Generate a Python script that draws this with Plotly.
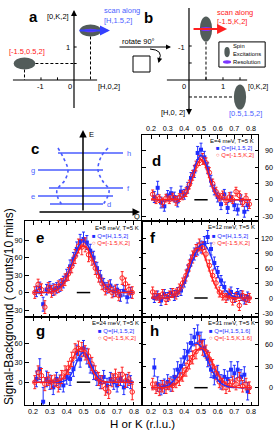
import plotly.graph_objects as go

W, H = 274, 433
FONT = "Arial, Liberation Sans, Helvetica, sans-serif"
BLUE = "#1f2dff"
RED = "#ff2020"
GREY = "#525c5a"
PURPLE = "#7b35ff"
TXT_BLUE = "#4a62ff"
LINE_BLUE = "#4a5cff"

# ---------------- data ----------------
x_ticks = [0.2, 0.3, 0.4, 0.5, 0.6, 0.7, 0.8]
x_tick_text = ["0.2", "0.3", "0.4", "0.5", "0.6", "0.7", "0.8"]
x_minor = [0.25, 0.35, 0.45, 0.55, 0.65, 0.75]

x_blue = [0.22, 0.24, 0.26, 0.28, 0.30, 0.32, 0.34, 0.36, 0.38, 0.40, 0.42, 0.44, 0.46, 0.48, 0.50,
          0.52, 0.54, 0.56, 0.58, 0.60, 0.62, 0.64, 0.66, 0.68, 0.70, 0.72, 0.74, 0.76, 0.78]
x_red = [0.21, 0.23, 0.25, 0.27, 0.29, 0.31, 0.33, 0.35, 0.37, 0.39, 0.41, 0.43, 0.45, 0.47, 0.49,
         0.51, 0.53, 0.55, 0.57, 0.59, 0.61, 0.63, 0.65, 0.67, 0.69, 0.71, 0.73, 0.75, 0.77, 0.79]
x_fit = [0.20, 0.22, 0.24, 0.26, 0.28, 0.30, 0.32, 0.34, 0.36, 0.38, 0.40, 0.42, 0.44, 0.46, 0.48, 0.50,
         0.52, 0.54, 0.56, 0.58, 0.60, 0.62, 0.64, 0.66, 0.68, 0.70, 0.72, 0.74, 0.76, 0.78, 0.80]
res_bar_x = [0.46, 0.54]
res_bar_y = [0, 0]

# panel d : E = 4 meV
d_blue = [5, 22, -5, -12, 8, 12, 5, -3, 15, 10, 22, 40, 52, 86, 92, 78, 58, 35, 18, 5, -8, 10, -15, 5, -10, -18, 0, -22, -10]
d_blue_err = [10, 12, 10, 9, 9, 10, 9, 10, 10, 9, 10, 10, 11, 12, 12, 11, 10, 10, 9, 9, 10, 9, 10, 9, 10, 10, 9, 10, 10]
d_red = [10, 0, 2, -5, 3, 0, 5, -2, 4, 8, 14, 28, 45, 62, 72, 75, 68, 50, 30, 15, 5, 8, -2, 5, 0, 15, 8, -5, 3, -8]
d_red_err = [8, 7, 7, 8, 7, 7, 7, 8, 7, 8, 8, 8, 9, 9, 9, 10, 9, 9, 8, 8, 7, 8, 7, 8, 7, 8, 8, 7, 8, 8]
d_blue_fit = [0, 0, 0, 0, 0, 0, 0, 0.2, 0.6, 2.3, 7.0, 16.9, 33.7, 55.3, 74.3, 82, 74.3, 55.3, 33.7, 16.9, 7.0, 2.3,
              0.6, 0.2, 0, 0, 0, 0, 0, 0, 0]
d_red_fit = [0, 0, 0, 0, 0, 0, 0, 0.1, 0.6, 2.1, 6.3, 15.2, 30.4, 49.9, 67.0, 74, 67.0, 49.9, 30.4, 15.2, 6.3, 2.1,
             0.6, 0.1, 0, 0, 0, 0, 0, 0, 0]

# panel e : E = 8 meV
e_blue = [2, 8, -20, 5, 10, 5, 8, 12, 18, 30, 45, 58, 75, 88, 92, 86, 72, 60, 42, 28, 15, 8, 12, 2, 5, -5, 3, -8, 0]
e_blue_err = [9, 10, 12, 9, 9, 10, 9, 10, 10, 10, 11, 11, 12, 12, 12, 12, 11, 11, 10, 10, 9, 9, 10, 9, 9, 10, 9, 10, 9]
e_red = [0, 14, 5, -25, 8, 2, 5, 10, 14, 22, 32, 45, 62, 80, 78, 82, 65, 58, 42, 28, 15, 5, 10, 0, 3, -5, 25, 15, 5, 0]
e_red_err = [10, 9, 10, 11, 9, 10, 9, 10, 10, 10, 11, 11, 12, 12, 13, 12, 12, 11, 11, 10, 10, 9, 10, 9, 10, 9, 11, 10, 9, 10]
e_blue_fit = [0, 0, 0, 0.1, 0.3, 0.8, 1.9, 4.2, 8.6, 16.0, 26.9, 41.3, 57.5, 72.8, 84.0, 88, 84.0, 72.8, 57.5, 41.3,
              26.9, 16.0, 8.6, 4.2, 1.9, 0.8, 0.3, 0.1, 0, 0, 0]
e_red_fit = [0, 0, 0, 0.1, 0.3, 0.7, 1.8, 3.8, 7.8, 14.6, 24.5, 37.5, 52.2, 66.2, 76.3, 80, 76.3, 66.2, 52.2, 37.5,
             24.5, 14.6, 7.8, 3.8, 1.8, 0.7, 0.3, 0.1, 0, 0, 0]

# panel f : E = 12 meV
f_blue = [0, 5, -5, 8, 2, 10, 5, 12, 15, 32, 55, 75, 88, 98, 102, 110, 122, 98, 70, 52, 35, 22, 5, 12, 0, 10, 5, -3, 2]
f_blue_err = [9, 9, 10, 9, 9, 9, 10, 9, 10, 10, 11, 11, 12, 12, 12, 13, 13, 12, 12, 11, 10, 10, 9, 10, 9, 9, 10, 9, 10]
f_red = [12, 5, 0, 8, -3, 5, 10, 8, 18, 30, 45, 65, 82, 95, 106, 100, 88, 65, 45, 30, 12, 5, 0, 8, -5, 2, -15, 5, -3, 0]
f_red_err = [10, 9, 9, 9, 10, 9, 9, 10, 10, 10, 11, 11, 12, 12, 12, 12, 12, 11, 11, 10, 10, 9, 9, 10, 9, 9, 10, 9, 10, 9]
f_blue_fit = [0, 0, 0, 0.2, 0.5, 1.2, 2.7, 5.6, 10.8, 19.2, 31.4, 47.2, 65.6, 83.7, 98.5, 107, 107, 98.5, 83.7, 65.6,
              47.2, 31.4, 19.2, 10.8, 5.6, 2.7, 1.2, 0.5, 0.2, 0, 0]
f_red_fit = [0, 0, 0, 0, 0.3, 0.9, 2.3, 5.4, 11.4, 21.6, 36.7, 55.6, 75.5, 91.7, 99.7, 96.9, 84.3, 65.7, 45.8, 28.6,
             15.9, 8.0, 3.5, 1.4, 0.5, 0.2, 0, 0, 0, 0, 0]

# panel g : E = 24 meV
g_blue = [5, 20, -30, 5, 0, -8, 5, 0, -5, 8, 5, 20, 45, 35, 52, 40, 25, 15, 5, 0, 8, -5, 5, 0, -5, 5, -8, 2, 0]
g_blue_err = [12, 16, 22, 12, 11, 11, 10, 11, 10, 11, 10, 11, 12, 12, 12, 12, 11, 11, 10, 10, 10, 11, 10, 11, 10, 10, 11, 10, 10]
g_red = [0, 15, 10, -3, 5, 0, 2, -5, 8, 15, 22, 35, 48, 52, 50, 45, 40, 28, 15, 5, 0, -10, -15, 3, 10, 5, 12, 2, 5, -15]
g_red_err = [10, 10, 11, 10, 10, 10, 9, 10, 10, 10, 10, 11, 11, 11, 11, 11, 11, 10, 10, 10, 10, 10, 10, 10, 10, 10, 11, 10, 10, 12]
g_blue_fit = [0, 0, 0, 0, 0, 0, 0, 0, 0.4, 1.3, 3.9, 9.5, 18.9, 31.0, 41.7, 46, 41.7, 31.0, 18.9, 9.5, 3.9, 1.3, 0.4,
              0, 0, 0, 0, 0, 0, 0, 0]
g_red_fit = [0, 0, 0, 0, 0, 0, 0.3, 1.0, 2.9, 7.0, 14.5, 25.3, 37.8, 48.0, 52, 48.0, 37.8, 25.3, 14.5, 7.0, 2.9, 1.0,
             0.3, 0, 0, 0, 0, 0, 0, 0, 0]

# panel h : E = 31 meV
h_blue = [28, 5, 0, 2, 8, 5, 15, 25, 30, 42, 50, 62, 70, 75, 65, 55, 40, 25, 15, 20, 8, 15, 12, 25, 20, 25, 15, 18, -5]
h_blue_err = [12, 10, 10, 10, 10, 10, 11, 11, 11, 11, 12, 12, 12, 12, 12, 12, 11, 11, 11, 11, 10, 10, 11, 11, 11, 11, 10, 11, 12]
h_red = [5, 0, -3, 2, 0, 5, 3, 8, 12, 18, 25, 35, 42, 50, 62, 55, 50, 40, 30, 20, 8, 5, 0, 3, 8, 5, 12, 2, 5, 0]
h_red_err = [8, 8, 8, 8, 8, 8, 8, 8, 9, 9, 9, 9, 9, 10, 10, 10, 9, 9, 9, 9, 8, 8, 8, 8, 8, 8, 9, 8, 8, 8]
h_blue_fit = [0, 0.1, 0.3, 0.7, 1.6, 3.2, 6.2, 11.0, 18.0, 27.1, 37.6, 48.0, 56.5, 61.4, 61.4, 56.5, 48.0, 37.6, 27.1,
              18.0, 11.0, 6.2, 3.2, 1.6, 0.7, 0.3, 0.1, 0, 0, 0, 0]
h_red_fit = [0, 0, 0.1, 0.2, 0.4, 0.9, 2.0, 4.0, 7.4, 12.7, 19.8, 28.6, 38.1, 46.7, 52.8, 55, 52.8, 46.7, 38.1, 28.6,
             19.8, 12.7, 7.4, 4.0, 2.0, 0.9, 0.4, 0.2, 0.1, 0, 0]

energy_labels = ["E=4 meV, T=5 K", "E=8 meV, T=5 K", "E=12 meV, T=5 K", "E=24 meV, T=5 K", "E=31 meV, T=5 K"]
q_blue_labels = ["Q=[H,1.5,2]", "Q=[H,1.5,2]", "Q=[H,1.5,2]", "Q=[H,1.5,2]", "Q=[H,1.5,1.6]"]
q_red_labels = ["Q=[-1.5,K,2]", "Q=[-1.5,K,2]", "Q=[-1.5,K,2]", "Q=[-1.5,K,2]", "Q=[-1.5,K,1.6]"]

# schematic a: spin excitation positions in (H, K)
a_spin_h = [-1.5, 0.5]
a_spin_k = [0.5, 1.5]
# schematic b: rotated frame (K horizontal, -H vertical)
b_spin_k = [0.5, 1.5]
b_spin_v = [1.5, -0.5]
# schematic c: dispersion (Q, E) and energy cuts d..h
c_left_q = [-0.5, -0.4, -0.3, -0.36, -0.52, -0.5, -0.4]
c_right_q = [0.5, 0.36, 0.3, 0.38, 0.52, 0.48, 0.38]
c_disp_e = [32, 27.5, 21, 16, 11, 7, 3]
c_levels = [4, 8, 12, 21, 29.5]
c_level_q0 = [-0.66, -0.9, -0.68, -0.9, -0.5]
c_level_q1 = [0.4, 0.6, 0.8, 0.4, 0.8]
c_level_names = ["d", "e", "f", "g", "h"]

# ---------------- figure ----------------
fig = go.Figure()
shapes = []
ann = []


def PX(x):
    return x / W


def PY(y):
    return 1 - y / H


def line(x0, y0, x1, y1, ref, color="black", width=1, dash=None):
    shapes.append(dict(type="line", xref="x" + ref, yref="y" + ref, x0=x0, y0=y0, x1=x1, y1=y1,
                       line=dict(color=color, width=width, dash=dash)))


def ellipse(cx, cy, w, h, ref, color):
    shapes.append(dict(type="circle", xref="x" + ref, yref="y" + ref, x0=cx - w / 2, x1=cx + w / 2,
                       y0=cy - h / 2, y1=cy + h / 2, fillcolor=color, line=dict(width=0)))


def arrow(x0, y0, x1, y1, ref, color="black", width=1.2, size=1.0, head=2):
    ann.append(dict(x=x1, y=y1, ax=x0, ay=y0, xref="x" + ref, yref="y" + ref, axref="x" + ref, ayref="y" + ref,
                    text="", showarrow=True, arrowhead=head, arrowsize=size, arrowwidth=width,
                    arrowcolor=color, standoff=0, startstandoff=0))


def text(xp, yp, s, size=7.0, color="black", xanchor="center", bold=False, angle=0):
    if bold:
        s = "<b>" + s + "</b>"
    ann.append(dict(x=PX(xp), y=PY(yp), xref="paper", yref="paper", text=s, showarrow=False,
                    xanchor=xanchor, yanchor="middle", textangle=angle, borderpad=0,
                    font=dict(size=size, color=color, family=FONT)))


# --- schematic axes (hidden) ---
schem = {
    "": ([PX(0), PX(137)], [PY(110), PY(0)], [-2.242, 1.909], [-0.909, 2.424]),
    "2": ([PX(137), PX(274)], [PY(125), PY(0)], [-1.529, 2.5], [-1.324, 2.353]),
    "3": ([PX(25), PX(142)], [PY(221), PY(110)], [-1.16, 1.18], [-4.5, 51]),
}
for ref, (dx, dy, xr, yr) in schem.items():
    fig.update_layout(**{
        "xaxis" + ref: dict(domain=dx, range=xr, visible=False, anchor="y" + ref, fixedrange=True),
        "yaxis" + ref: dict(domain=dy, range=yr, visible=False, anchor="x" + ref, fixedrange=True),
    })

# panel a
fig.add_trace(go.Scatter(x=a_spin_h, y=a_spin_k, mode="markers", marker=dict(opacity=0),
                         xaxis="x", yaxis="y", hoverinfo="skip"))
line(-1.85, 0, 0.70, 0, "", width=1.2)
line(0, -0.85, 0, 2.0, "", width=1.2)
arrow(0, 1.9, 0, 2.12, "", width=1.2, size=1.0)
for t in [-1, -0.5]:
    line(t, 0, t, 0.08, "", width=1)
for t in [0.5, 1]:
    line(0, t, 0.08, t, "", width=1)
line(a_spin_h[0] + 0.33, a_spin_k[0], 0, a_spin_k[0], "", dash="3px,2px")
line(a_spin_h[0], a_spin_k[0] - 0.18, a_spin_h[0], 0, "", dash="3px,2px")
line(a_spin_h[1], a_spin_k[1] - 0.18, a_spin_h[1], 0, "", dash="3px,2px")
for hh, kk in zip(a_spin_h, a_spin_k):
    ellipse(hh, kk, 0.66, 0.36, "", GREY)
ellipse(a_spin_h[1], a_spin_k[1], 0.4, 0.11, "", PURPLE)
arrow(0.12, a_spin_k[1], 1.09, a_spin_k[1], "", color="#3340ff", width=2, size=1.0)

text(33, 16, "a", size=15, bold=True)
text(70, 16, "[0,K,2]", size=7.5, xanchor="right")
text(103, 11, "scan along", size=7.5, color=TXT_BLUE, xanchor="left")
text(103, 21, "[H,1.5,2]", size=7.5, color=TXT_BLUE, xanchor="left")
text(71, 47, "1", size=7.5, xanchor="right")
text(27, 52, "[-1.5,0.5,2]", size=7.5, color=RED)
text(40, 87, "-1", size=7.5)
text(70, 87, "0", size=7.5)
text(97, 87, "[H,0,2]", size=7.5, xanchor="left")

# rotate 90 between a and b
text(138, 41, "rotate 90°", size=7.5)
ann.append(dict(x=PX(171), y=PY(47), xref="paper", yref="paper", ax=-53, ay=0, axref="pixel", ayref="pixel",
                text="", showarrow=True, arrowhead=2, arrowsize=1, arrowwidth=1, arrowcolor="black"))
shapes.append(dict(type="path", xref="paper", yref="paper",
                   path=f"M {PX(150)},{PY(49)} Q {PX(164)},{PY(50)} {PX(159)},{PY(60)}",
                   line=dict(color="black", width=1)))
ann.append(dict(x=PX(158.5), y=PY(63), xref="paper", yref="paper", ax=1, ay=-4, axref="pixel", ayref="pixel",
                text="", showarrow=True, arrowhead=2, arrowsize=1, arrowwidth=1, arrowcolor="black"))
shapes.append(dict(type="rect", xref="paper", yref="paper", x0=PX(133), x1=PX(150), y0=PY(72), y1=PY(56),
                   line=dict(color="black", width=1)))

# panel b
fig.add_trace(go.Scatter(x=b_spin_k, y=b_spin_v, mode="markers", marker=dict(opacity=0),
                         xaxis="x2", yaxis="y2", hoverinfo="skip"))
line(-0.65, 0, 1.71, 0, "2", width=1.2)
line(0, 2.12, 0, -0.9, "2", width=1.2)
arrow(0, -0.8, 0, -1.03, "2", width=1.2, size=1.0)
for t in [0.5, 1, 1.5]:
    line(t, 0, t, 0.08, "2", width=1)
for t in [0.5, 1]:
    line(0, t, 0.08, t, "2", width=1)
line(b_spin_k[0], b_spin_v[0] - 0.37, b_spin_k[0], 0, "2", dash="3px,2px")
line(0, b_spin_v[1], b_spin_k[1] - 0.18, b_spin_v[1], "2", dash="3px,2px")
for kk, vv in zip(b_spin_k, b_spin_v):
    ellipse(kk, vv, 0.36, 0.74, "2", GREY)
ellipse(b_spin_k[0], b_spin_v[0], 0.36, 0.12, "2", PURPLE)
arrow(0.09, b_spin_v[0], 1.12, b_spin_v[0], "2", color=RED, width=2, size=1.0)
# legend box in b
shapes.append(dict(type="rect", xref="x2", yref="y2", x0=0.88, x1=2.24, y0=0.38, y1=1.12,
                   line=dict(color="black", width=1)))
ellipse(1.12, 0.82, 0.16, 0.3, "2", GREY)
ellipse(1.12, 0.53, 0.24, 0.1, "2", PURPLE)

text(149, 17, "b", size=15, bold=True)
text(216, 12, "scan along", size=7.5, color=RED, xanchor="left")
text(216, 22, "[-1.5,K,2]", size=7.5, color=RED, xanchor="left")
text(186, 47, "-1", size=7.5, xanchor="right")
text(184, 87, "0", size=7.5)
text(223, 87, "1", size=7.5)
text(247, 87, "[0,K,2]", size=7, xanchor="left")
text(186, 112, "[H,0, 2]", size=7.5, xanchor="right")
text(245, 113, "[0.5,1.5,2]", size=7.5, color=TXT_BLUE)
text(232, 46, "Spin", size=5.8, xanchor="left")
text(232, 54, "Excitations", size=5.8, xanchor="left")
text(232, 62, "Resolution", size=5.8, xanchor="left")

# panel c
fig.add_trace(go.Scatter(x=c_left_q, y=c_disp_e, mode="lines", xaxis="x3", yaxis="y3", hoverinfo="skip",
                         line=dict(color=LINE_BLUE, width=1.6, dash="dot", shape="spline")))
fig.add_trace(go.Scatter(x=c_right_q, y=c_disp_e, mode="lines", xaxis="x3", yaxis="y3", hoverinfo="skip",
                         line=dict(color=LINE_BLUE, width=1.6, dash="dot", shape="spline")))
for ev, q0, q1 in zip(c_levels, c_level_q0, c_level_q1):
    line(q0, ev, q1, ev, "3", color=LINE_BLUE, width=1.5)
arrow(-0.9, 0, 1.14, 0, "3", width=1.5, size=1.0)
arrow(0, 0, 0, 41, "3", width=1.5, size=1.0)

text(35, 148, "c", size=15, bold=True)
text(88, 134, "E", size=7.5, xanchor="left")
text(137, 216, "Q", size=7.5)
c_label_px = {"d": (106, 204, "left"), "e": (36, 196, "right"), "f": (126, 188, "left"),
              "g": (36, 170, "right"), "h": (126, 153, "left")}
for nm in c_level_names:
    xx, yy, anc = c_label_px[nm]
    text(xx, yy, nm, size=7.5, color=TXT_BLUE, xanchor=anc)

# --- data panels ---
BOX = {"d": (142, 258, 135, 221), "e": (25, 142, 221, 317), "f": (142, 258, 221, 317),
       "g": (25, 142, 317, 405), "h": (142, 258, 317, 405)}
X_RANGE = {"d": [0.146, 0.842], "e": [0.152, 0.848], "f": [0.146, 0.842], "g": [0.152, 0.848], "h": [0.146, 0.842]}
Y_RANGE = {"d": [-39, 119], "e": [-42, 123], "f": [-38, 154], "g": [-35, 100], "h": [-24, 98]}
Y_TICKS = {"d": [-30, 0, 30, 60, 90], "e": [-30, 0, 30, 60, 90], "f": [-30, 0, 30, 60, 90, 120],
           "g": [0, 30, 60], "h": [0, 30, 60, 90]}
RIGHT_LABEL_AXIS = {"d": "9", "f": "10", "h": "11"}
LABEL_POS = {  # (E text right x, E text y, legend left x, legend first y, letter x, letter y)
    "d": (255, 141, 215, 148, 151, 160),
    "e": (140, 228, 91, 236, 35, 237),
    "f": (256, 227, 211, 236, 149, 237),
    "g": (140, 323, 97, 331, 35, 330),
    "h": (256, 323, 208, 331, 149, 330),
}

series = {
    "d": (d_blue, d_blue_err, d_red, d_red_err, d_blue_fit, d_red_fit),
    "e": (e_blue, e_blue_err, e_red, e_red_err, e_blue_fit, e_red_fit),
    "f": (f_blue, f_blue_err, f_red, f_red_err, f_blue_fit, f_red_fit),
    "g": (g_blue, g_blue_err, g_red, g_red_err, g_blue_fit, g_red_fit),
    "h": (h_blue, h_blue_err, h_red, h_red_err, h_blue_fit, h_red_fit),
}

tickfont = dict(size=7.2, color="black", family=FONT)
for i, k in enumerate(["d", "e", "f", "g", "h"]):
    n = str(i + 4)
    x0, x1, y0, y1 = BOX[k]
    xa = dict(domain=[PX(x0), PX(x1)], range=X_RANGE[k], anchor="y" + n, tickvals=x_ticks,
              ticktext=x_tick_text, ticks="inside", ticklen=3.5, tickwidth=1, tickcolor="black",
              showline=True, linecolor="black", linewidth=1, mirror="ticks", showgrid=False, zeroline=False,
              tickfont=tickfont, fixedrange=True, ticklabeloverflow="allow",
              minor=dict(tickvals=x_minor, ticks="inside", ticklen=2, tickcolor="black", showgrid=False))
    if k == "d":
        xa.update(side="top", showticklabels=True)
    elif k in ("g", "h"):
        xa.update(side="bottom", showticklabels=True, ticklabelstandoff=-1)
    else:
        xa.update(showticklabels=False)
    right = k in RIGHT_LABEL_AXIS
    ya = dict(domain=[PY(y1), PY(y0)], range=Y_RANGE[k], anchor="x" + n, side="left",
              tickvals=Y_TICKS[k], ticktext=[str(v) for v in Y_TICKS[k]], ticks="inside", ticklen=3.5,
              tickwidth=1, tickcolor="black", showline=True, linecolor="black", linewidth=1, mirror="ticks",
              showgrid=False, zeroline=False, tickfont=tickfont, fixedrange=True, ticklabeloverflow="allow",
              showticklabels=not right)
    fig.update_layout(**{"xaxis" + n: xa, "yaxis" + n: ya})

    by, be, ry, re_, bf, rf = series[k]
    xs, ys = "x" + n, "y" + n
    fig.add_trace(go.Scatter(x=x_blue, y=by, mode="markers", xaxis=xs, yaxis=ys, hoverinfo="skip",
                             marker=dict(symbol="square", size=4, color=BLUE),
                             error_y=dict(type="data", array=be, color=BLUE, thickness=1, width=1.5)))
    fig.add_trace(go.Scatter(x=x_red, y=ry, mode="markers", xaxis=xs, yaxis=ys, hoverinfo="skip",
                             marker=dict(symbol="circle-open", size=4.5, color=RED, line=dict(width=1, color=RED)),
                             error_y=dict(type="data", array=re_, color=RED, thickness=1, width=1.5)))
    fig.add_trace(go.Scatter(x=x_fit, y=bf, mode="lines", xaxis=xs, yaxis=ys, hoverinfo="skip",
                             line=dict(color=BLUE, width=1.4, shape="spline")))
    fig.add_trace(go.Scatter(x=x_fit, y=rf, mode="lines", xaxis=xs, yaxis=ys, hoverinfo="skip",
                             line=dict(color=RED, width=1.4, shape="spline")))
    fig.add_trace(go.Scatter(x=res_bar_x, y=res_bar_y, mode="lines", xaxis=xs, yaxis=ys, hoverinfo="skip",
                             line=dict(color="black", width=1.5)))

    if right:
        m = RIGHT_LABEL_AXIS[k]
        # label-only axis just right of the panel (labels right-aligned, as in the reference)
        fig.update_layout(**{"yaxis" + m: dict(overlaying="y" + n, anchor="free", position=PX(273), side="left",
                                                range=Y_RANGE[k], tickvals=Y_TICKS[k],
                                                ticktext=[str(v) for v in Y_TICKS[k]], ticks="",
                                                showline=False, showgrid=False, zeroline=False,
                                                tickfont=tickfont, fixedrange=True, ticklabeloverflow="allow")})
        fig.add_trace(go.Scatter(x=res_bar_x, y=res_bar_y, mode="markers", xaxis=xs, yaxis="y" + m,
                                 hoverinfo="skip", marker=dict(opacity=0)))

    ex, ey, lx, ly, px_, py_ = LABEL_POS[k]
    text(ex, ey, energy_labels[i], size=6, xanchor="right")
    text(lx, ly, "■ " + q_blue_labels[i], size=6, color=BLUE, xanchor="left")
    text(lx, ly + 7, "○ " + q_red_labels[i], size=6, color=RED, xanchor="left")
    text(px_, py_, k, size=15, bold=True, xanchor="left")

# global axis titles
text(9, 307, "Signal-Background ( counts/10 mins)", size=12, angle=-90)
text(142, 424, "H or K (r.l.u.)", size=11.5)

fig.update_layout(width=W, height=H, margin=dict(l=0, r=0, t=0, b=0), showlegend=False,
                  paper_bgcolor="white", plot_bgcolor="rgba(0,0,0,0)", shapes=shapes, annotations=ann,
                  font=dict(family=FONT, color="black"))

# the page body has an 8px default margin; remove it so the 274x433 figure fills the window exactly
fig.write_html("out.html", config={"displayModeBar": False},
               post_script="document.body.style.margin='0';document.body.style.padding='0';"
                           "document.documentElement.style.overflow='hidden';")
